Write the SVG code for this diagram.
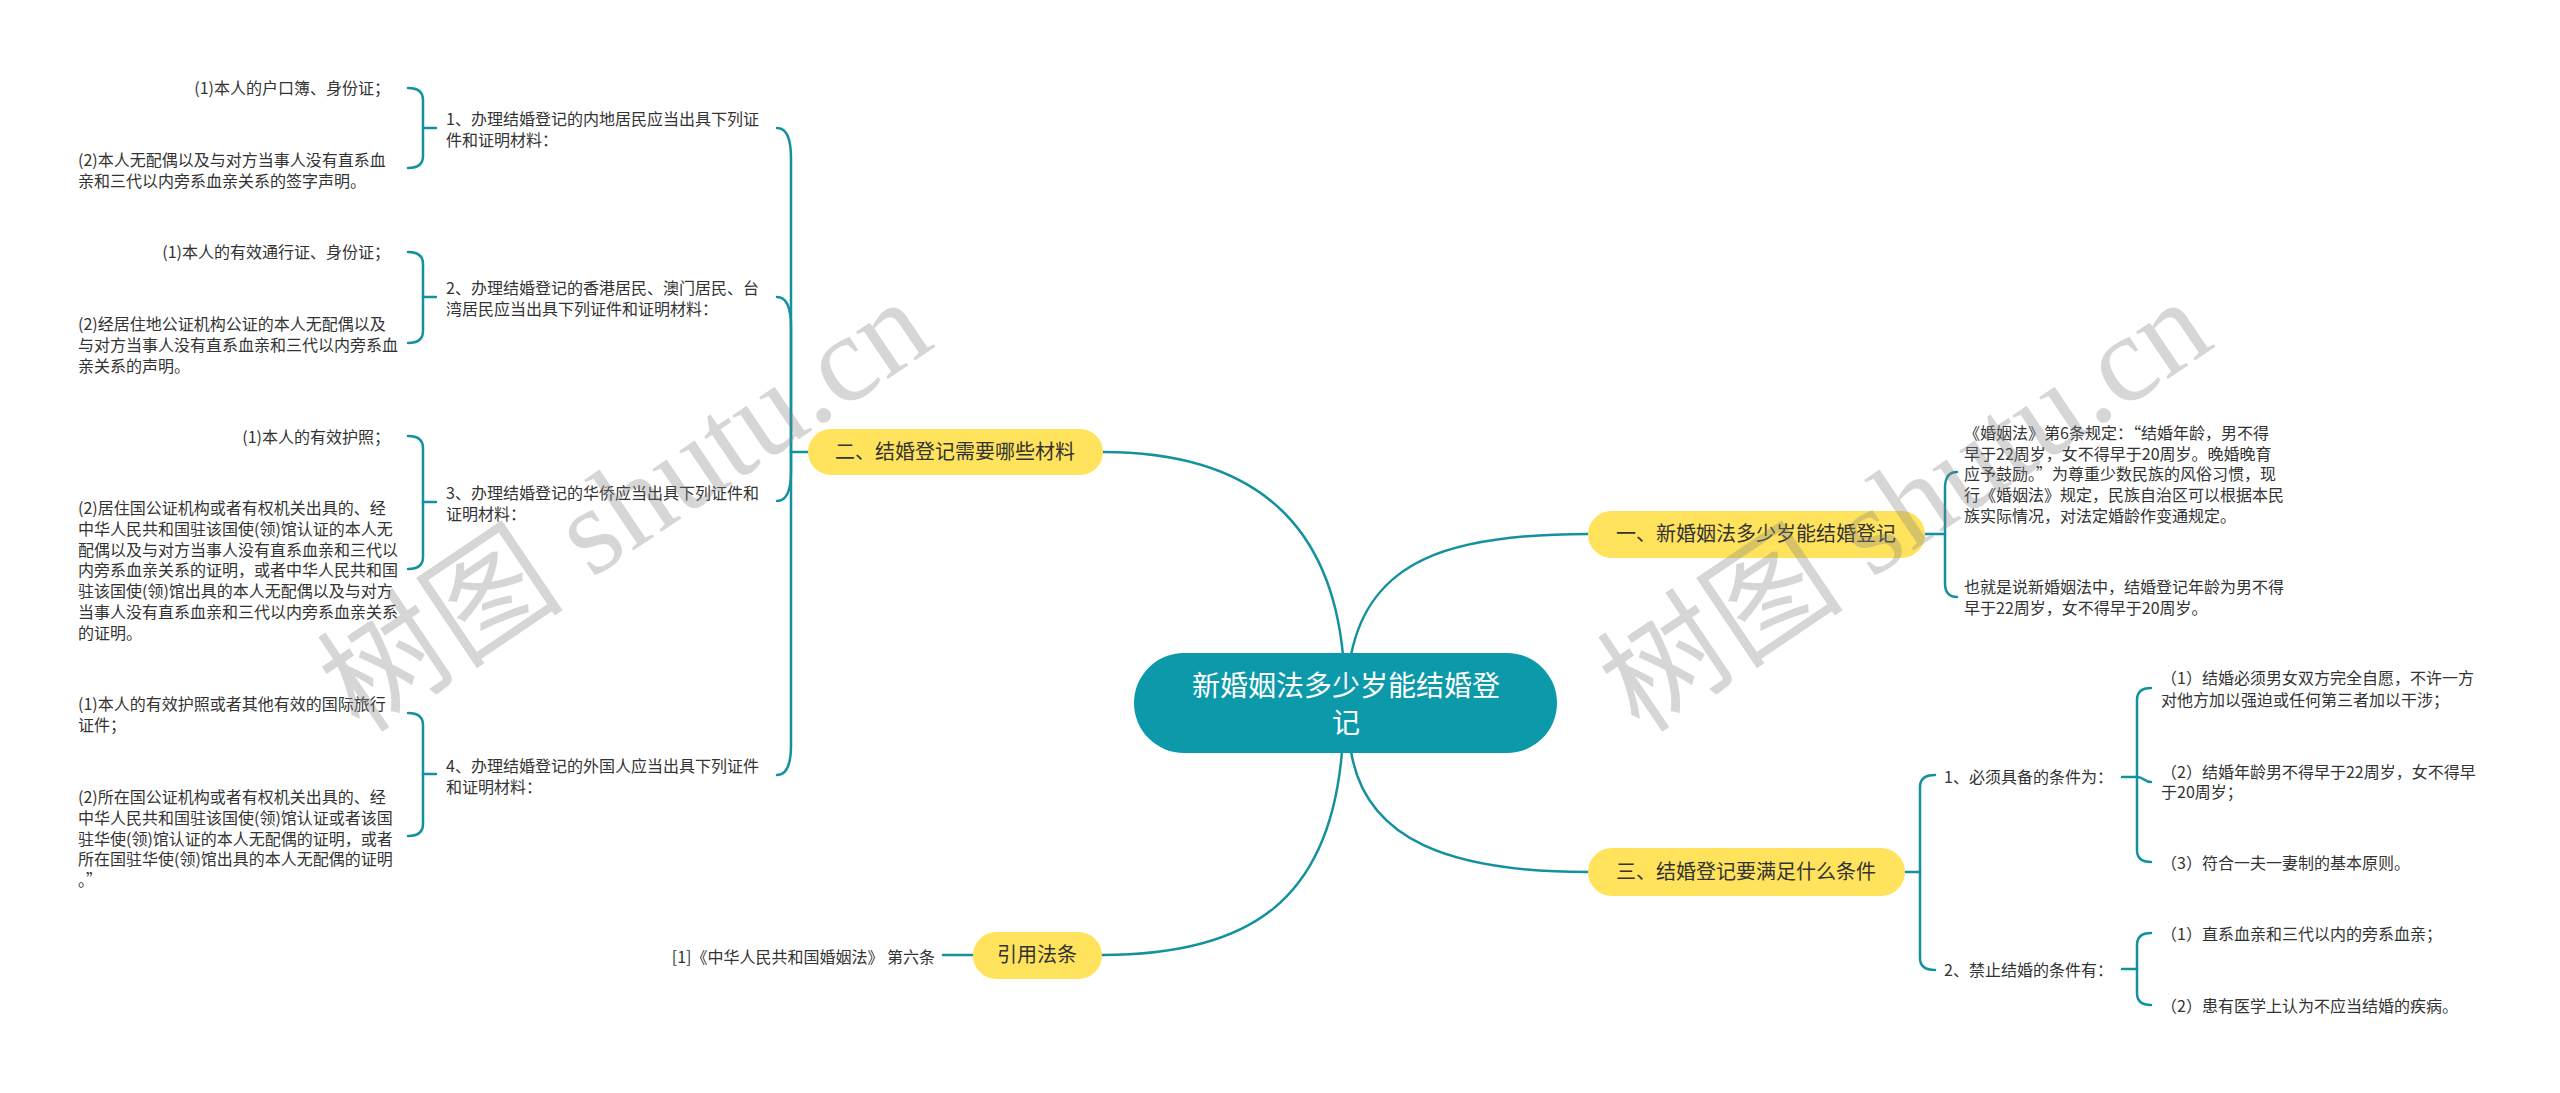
<svg xmlns="http://www.w3.org/2000/svg" width="2560" height="1093" viewBox="0 0 2560 1093">
<style>
.t{font-family:"Noto Sans CJK SC","Noto Sans",sans-serif;font-size:16px;fill:#333}
.e{text-anchor:end}
.b{font-family:"Noto Sans CJK SC","Noto Sans",sans-serif;font-size:20px;fill:#333;text-anchor:middle}
.c{font-family:"Noto Sans CJK SC","Noto Sans",sans-serif;font-size:28px;fill:#fff;text-anchor:middle}
.y{fill:#FFE35C}
.ln{fill:none;stroke:#14919F;stroke-width:2.5;stroke-linecap:round}
.wm{font-family:"Liberation Serif","Noto Sans CJK SC",serif;font-size:124px;fill:#808080;fill-opacity:0.32}
</style>
<rect width="2560" height="1093" fill="#fff"/>
<g id="connectors" class="ln">
<path d="M1343 655 C1330 520 1250 452 1103 452"/>
<path d="M1351 655 C1370 560 1450 534 1588 534"/>
<path d="M1351 751 C1365 840 1450 872 1588 872"/>
<path d="M1342 751 C1330 900 1250 955 1102 955"/>
<path d="M808 452 L791 452"/>
<path d="M791 452 L791 158 Q791 128 777 128"/>
<path d="M791 452 L791 327 Q791 297 777 297"/>
<path d="M791 452 L791 471 Q791 501 777 501"/>
<path d="M791 452 L791 745 Q791 775 777 775"/>
<path d="M436 128 L423 128"/>
<path d="M423 128 L423 100 Q423 88 408 88"/>
<path d="M423 128 L423 156 Q423 168 408 168"/>
<path d="M436 297 L423 297"/>
<path d="M423 297 L423 264 Q423 252 408 252"/>
<path d="M423 297 L423 331 Q423 343 408 343"/>
<path d="M436 502 L423 502"/>
<path d="M423 502 L423 448 Q423 436 408 436"/>
<path d="M423 502 L423 557 Q423 569 408 569"/>
<path d="M436 774 L423 774"/>
<path d="M423 774 L423 725 Q423 713 408 713"/>
<path d="M423 774 L423 824 Q423 836 408 836"/>
<path d="M973 955 L943 955"/>
<path d="M1925 534 L1945 534"/>
<path d="M1945 534 L1945 488 Q1945 472 1957 472"/>
<path d="M1945 534 L1945 583 Q1945 597 1957 597"/>
<path d="M1905 872 L1920 872"/>
<path d="M1920 872 L1920 787 Q1920 775 1935 775"/>
<path d="M1920 872 L1920 958 Q1920 970 1935 970"/>
<path d="M2122 777 L2137 777"/>
<path d="M2137 777 L2137 700 Q2137 688 2151 688"/>
<path d="M2137 777 C2144 777 2144 782 2151 782"/>
<path d="M2137 777 L2137 850 Q2137 862 2151 862"/>
<path d="M2122 969 L2137 969"/>
<path d="M2137 969 L2137 945 Q2137 933 2151 933"/>
<path d="M2137 969 L2137 993 Q2137 1005 2151 1005"/>
</g>
<g id="root">
<rect x="1134" y="653" width="423" height="100" rx="50" fill="#0C9AAB"/>
<text class="c" x="1346" y="696">新婚姻法多少岁能结婚登</text>
<text class="c" x="1346" y="733">记</text>
</g>
<g id="b2">
<rect class="y" x="808" y="429" width="295" height="46" rx="23"/>
<text class="b" x="955" y="459">二、结婚登记需要哪些材料</text>
</g>
<g id="b1">
<rect class="y" x="1588" y="511" width="337" height="47" rx="23.5"/>
<text class="b" x="1756" y="541">一、新婚姻法多少岁能结婚登记</text>
</g>
<g id="b3">
<rect class="y" x="1588" y="848" width="317" height="48" rx="24"/>
<text class="b" x="1746" y="879">三、结婚登记要满足什么条件</text>
</g>
<g id="b4">
<rect class="y" x="973" y="932" width="129" height="47" rx="23.5"/>
<text class="b" x="1037" y="962">引用法条</text>
</g>
<g id="c1">
<text class="t" x="446" y="125">1、办理结婚登记的内地居民应当出具下列证</text>
<text class="t" x="446" y="146">件和证明材料：</text>
</g>
<g id="c1l1"><text class="t e" x="390" y="94">(1)本人的户口簿、身份证；</text></g>
<g id="c1l2">
<text class="t" x="78" y="166">(2)本人无配偶以及与对方当事人没有直系血</text>
<text class="t" x="78" y="187">亲和三代以内旁系血亲关系的签字声明。</text>
</g>
<g id="c2">
<text class="t" x="446" y="294">2、办理结婚登记的香港居民、澳门居民、台</text>
<text class="t" x="446" y="315">湾居民应当出具下列证件和证明材料：</text>
</g>
<g id="c2l1"><text class="t e" x="390" y="258">(1)本人的有效通行证、身份证；</text></g>
<g id="c2l2">
<text class="t" x="78" y="330">(2)经居住地公证机构公证的本人无配偶以及</text>
<text class="t" x="78" y="351">与对方当事人没有直系血亲和三代以内旁系血</text>
<text class="t" x="78" y="372">亲关系的声明。</text>
</g>
<g id="c3">
<text class="t" x="446" y="499">3、办理结婚登记的华侨应当出具下列证件和</text>
<text class="t" x="446" y="520">证明材料：</text>
</g>
<g id="c3l1"><text class="t e" x="390" y="443">(1)本人的有效护照；</text></g>
<g id="c3l2">
<text class="t" x="78" y="514">(2)居住国公证机构或者有权机关出具的、经</text>
<text class="t" x="78" y="535">中华人民共和国驻该国使(领)馆认证的本人无</text>
<text class="t" x="78" y="556">配偶以及与对方当事人没有直系血亲和三代以</text>
<text class="t" x="78" y="576">内旁系血亲关系的证明，或者中华人民共和国</text>
<text class="t" x="78" y="597">驻该国使(领)馆出具的本人无配偶以及与对方</text>
<text class="t" x="78" y="618">当事人没有直系血亲和三代以内旁系血亲关系</text>
<text class="t" x="78" y="639">的证明。</text>
</g>
<g id="c4">
<text class="t" x="446" y="772">4、办理结婚登记的外国人应当出具下列证件</text>
<text class="t" x="446" y="793">和证明材料：</text>
</g>
<g id="c4l1">
<text class="t" x="78" y="710">(1)本人的有效护照或者其他有效的国际旅行</text>
<text class="t" x="78" y="731">证件；</text>
</g>
<g id="c4l2">
<text class="t" x="78" y="803">(2)所在国公证机构或者有权机关出具的、经</text>
<text class="t" x="78" y="824">中华人民共和国驻该国使(领)馆认证或者该国</text>
<text class="t" x="78" y="845">驻华使(领)馆认证的本人无配偶的证明，或者</text>
<text class="t" x="78" y="865">所在国驻华使(领)馆出具的本人无配偶的证明</text>
<text class="t" x="78" y="886">。”</text>
</g>
<g id="ref1"><text class="t e" x="935" y="963">[1]《中华人民共和国婚姻法》 第六条</text></g>
<g id="r1l1">
<text class="t" x="1964" y="439">《婚姻法》第6条规定：“结婚年龄，男不得</text>
<text class="t" x="1964" y="460">早于22周岁，女不得早于20周岁。晚婚晚育</text>
<text class="t" x="1964" y="480">应予鼓励。”为尊重少数民族的风俗习惯，现</text>
<text class="t" x="1964" y="501">行《婚姻法》规定，民族自治区可以根据本民</text>
<text class="t" x="1964" y="522">族实际情况，对法定婚龄作变通规定。</text>
</g>
<g id="r1l2">
<text class="t" x="1964" y="593">也就是说新婚姻法中，结婚登记年龄为男不得</text>
<text class="t" x="1964" y="614">早于22周岁，女不得早于20周岁。</text>
</g>
<g id="r3c1"><text class="t" x="1944" y="783">1、必须具备的条件为：</text></g>
<g id="r3c2"><text class="t" x="1944" y="976">2、禁止结婚的条件有：</text></g>
<g id="r3c1l1">
<text class="t" x="2161" y="684">（1）结婚必须男女双方完全自愿，不许一方</text>
<text class="t" x="2161" y="706">对他方加以强迫或任何第三者加以干涉；</text>
</g>
<g id="r3c1l2">
<text class="t" x="2161" y="778">（2）结婚年龄男不得早于22周岁，女不得早</text>
<text class="t" x="2161" y="798">于20周岁；</text>
</g>
<g id="r3c1l3"><text class="t" x="2161" y="869">（3）符合一夫一妻制的基本原则。</text></g>
<g id="r3c2l1"><text class="t" x="2161" y="940">（1）直系血亲和三代以内的旁系血亲；</text></g>
<g id="r3c2l2"><text class="t" x="2161" y="1012">（2）患有医学上认为不应当结婚的疾病。</text></g>
<g id="watermarks">
<text class="wm" x="360" y="735" transform="rotate(-34 360 735)">树图 shutu.cn</text>
<text class="wm" x="1640" y="735" transform="rotate(-34 1640 735)">树图 shutu.cn</text>
</g>
</svg>
